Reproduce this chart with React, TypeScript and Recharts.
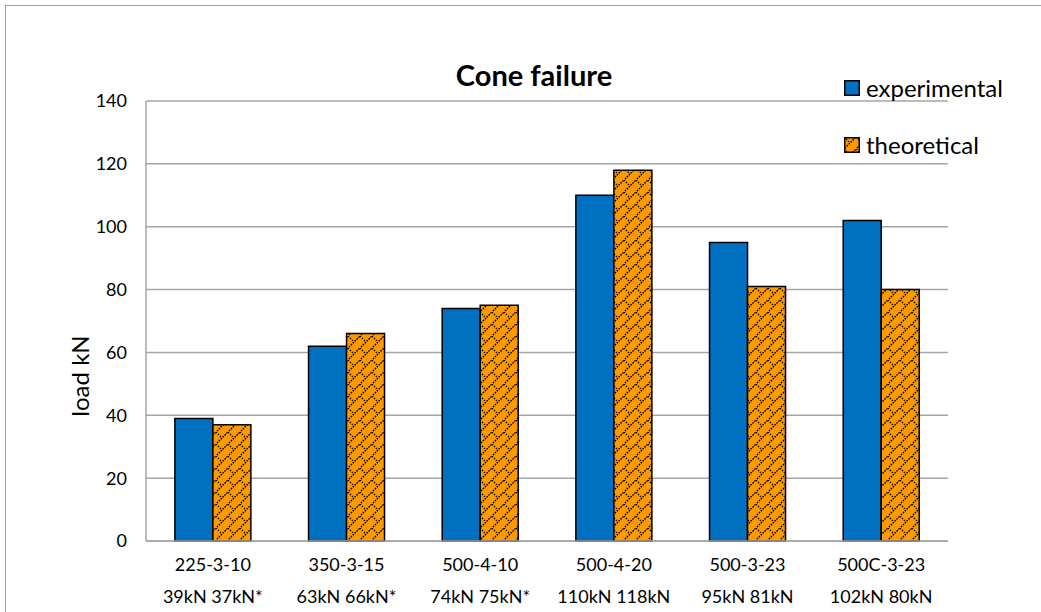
import { BarChart, Bar, XAxis, YAxis, CartesianGrid } from "recharts";

const categories = ["225-3-10", "350-3-15", "500-4-10", "500-4-20", "500-3-23", "500C-3-23"];
const subLabels = ["39kN 37kN*", "63kN 66kN*", "74kN 75kN*", "110kN 118kN", "95kN 81kN", "102kN 80kN"];
const experimental = [39, 62, 74, 110, 95, 102];
const theoretical = [37, 66, 75, 118, 81, 80];
const yTicks = [0, 20, 40, 60, 80, 100, 120, 140];
const seriesNames = ["experimental", "theoretical"];

const data = categories.map((name, i) => ({
  name,
  experimental: experimental[i],
  theoretical: theoretical[i],
}));

const FONT = "Lato, 'Open Sans', sans-serif";
const BLUE = "#0070C0";
const ORANGE = "#FF9900";

// two-line category label: name + measured/theoretical loads
const CategoryTick = (props: any) => {
  const { x, y, payload, index } = props;
  return (
    <g>
      <text x={x} y={y + 22} textAnchor="middle" fontSize={18} fill="#000" fontFamily={FONT}>
        {payload.value}
      </text>
      <text x={x} y={y + 54} textAnchor="middle" fontSize={18} fill="#000" fontFamily={FONT}>
        {subLabels[index]}
      </text>
    </g>
  );
};

const App = () => {
  return (
    <div style={{ position: "absolute", left: 0, top: 0, width: 1041, height: 612, background: "#fff" }}>
      <div
        style={{
          position: "absolute",
          left: 5,
          top: 5,
          width: 1040,
          height: 620,
          border: "1.5px solid #a0a0a0",
          boxSizing: "border-box",
        }}
      />
      <svg width={0} height={0} style={{ position: "absolute" }}>
        <defs>
          <pattern id="lattice" width="12" height="12" patternUnits="userSpaceOnUse">
            <rect width="12" height="12" fill={ORANGE} />
            <path d="M-1 13 L13 -1" stroke="#000" strokeWidth={1.4} strokeDasharray="1.6 1.1" />
            <path d="M0 0 L6 6" stroke="#000" strokeWidth={1.2} strokeDasharray="1.6 1.1" />
          </pattern>
        </defs>
      </svg>
      <BarChart
        width={1041}
        height={612}
        data={data}
        margin={{ top: 101, right: 93, bottom: 11, left: 86 }}
        barCategoryGap="21.6%"
        barGap={0}
        style={{ position: "absolute", left: 0, top: 0 }}
      >
        <CartesianGrid vertical={false} stroke="#a6a6a6" strokeWidth={1.5} />
        <XAxis
          dataKey="name"
          height={60}
          tickLine={false}
          axisLine={{ stroke: "#a6a6a6", strokeWidth: 1.5 }}
          tick={<CategoryTick />}
          interval={0}
        />
        <YAxis
          width={60}
          domain={[0, 140]}
          ticks={yTicks}
          tickLine={false}
          tickSize={0}
          tickMargin={19}
          axisLine={{ stroke: "#a6a6a6", strokeWidth: 1.5 }}
          tick={{ fontSize: 18, fill: "#000", fontFamily: FONT }}
          label={{
            value: "load kN",
            angle: -90,
            position: "left",
            offset: 6,
            dy: 55,
            style: { fontSize: 24, fill: "#000", fontFamily: FONT, textAnchor: "middle" },
          }}
        />
        <Bar dataKey="experimental" fill={BLUE} stroke="#000" strokeWidth={1.5} isAnimationActive={false} />
        <Bar dataKey="theoretical" fill="url(#lattice)" stroke="#000" strokeWidth={1.5} isAnimationActive={false} />
      </BarChart>
      <div
        style={{
          position: "absolute",
          left: 534,
          top: 57,
          transform: "translateX(-50%)",
          fontFamily: FONT,
          fontWeight: 700,
          fontSize: 29,
          whiteSpace: "nowrap",
        }}
      >
        Cone failure
      </div>
      {seriesNames.map((name, i) => (
        <div
          key={name}
          style={{
            position: "absolute",
            left: 844,
            top: 73 + i * 57,
            display: "flex",
            alignItems: "center",
            fontFamily: FONT,
            fontSize: 24,
          }}
        >
          <svg width={16} height={16} style={{ marginRight: 6 }}>
            <rect
              x={0.75}
              y={0.75}
              width={14.5}
              height={14.5}
              fill={i === 0 ? BLUE : "url(#lattice)"}
              stroke="#000"
              strokeWidth={1.5}
            />
          </svg>
          <span>{name}</span>
        </div>
      ))}
    </div>
  );
};

export default App;
